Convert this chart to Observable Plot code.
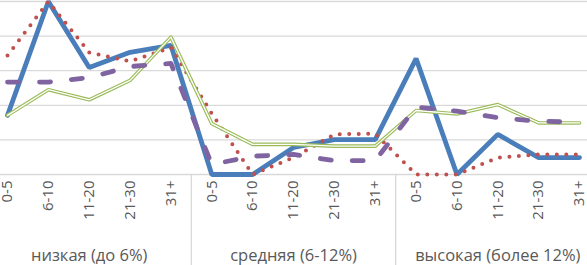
<!DOCTYPE html>
<html>
<head>
<meta charset="utf-8">
<script src="https://cdn.jsdelivr.net/npm/d3@7"></script>
<script src="https://cdn.jsdelivr.net/npm/@observablehq/plot@0.6"></script>
<style>
  html, body { margin: 0; padding: 0; background: #fff; }
  svg { display: block; }
</style>
</head>
<body>
<div id="chart"></div>
<script>
const ticks = ["0-5", "6-10", "11-20", "21-30", "31+"];
const groups = ["низкая (до 6%)", "средняя (6-12%)", "высокая (более 12%)"];
const blue   = [17.1, 50, 30.9, 35.3, 37.3, 0, 0, 7.8, 10.1, 10.1, 33.5, 0, 11.6, 4.9, 4.9];
const red    = [34.4, 50, 35.3, 32.7, 36.7, 17.6, 0, 4.9, 11.6, 11.8, 0, 0, 4.9, 5.8, 5.8];
const purple = [26.7, 26.7, 28.0, 31.2, 32.1, 2.9, 5.3, 5.8, 4.0, 4.0, 19.5, 18.3, 16.4, 15.4, 15.1];
const green  = [17.1, 24.5, 21.6, 27.2, 39.7, 14.7, 8.7, 8.7, 8.2, 8.2, 18.5, 17.5, 20.2, 14.9, 14.9];
const gridValues = [0, 10, 20, 30, 40, 50];

const cats = groups.flatMap((g, gi) => ticks.map((t, ti) => ({i: gi * ticks.length + ti, tick: t, group: g})));
const series = (vals) => vals.map((v, i) => ({i, v}));
const groupPos = groups.map((g, gi) => ({g, x: gi * ticks.length + (ticks.length - 1) / 2}));
const seps = groups.slice(1).map((g, gi) => (gi + 1) * ticks.length - 0.5);

const font = "'Open Sans', 'Noto Sans', sans-serif";

const chart = Plot.plot({
  width: 587,
  height: 265,
  marginTop: 1,
  marginBottom: 91,
  marginLeft: 0,
  marginRight: 0,
  style: {fontFamily: font, background: "#fff", overflow: "visible"},
  x: {type: "linear", domain: [-0.1713, 14.195], axis: null},
  y: {domain: [0, 50], axis: null},
  marks: [
    Plot.ruleY(gridValues, {stroke: "#d9d9d9", strokeWidth: 1.3}),
    Plot.ruleX(seps, {y1: 0, y2: -27, stroke: "#d9d9d9", strokeWidth: 1.3}),
    Plot.line(series(blue), {x: "i", y: "v", stroke: "#4a7ebb", strokeWidth: 4.8, strokeLinejoin: "miter"}),
    Plot.line(series(red), {x: "i", y: "v", stroke: "#c0504d", strokeWidth: 4, strokeDasharray: "0 9.5", strokeLinecap: "round"}),
    Plot.line(series(green), {x: "i", y: "v", stroke: "#9bbb59", strokeWidth: 3.6}),
    Plot.line(series(green), {x: "i", y: "v", stroke: "#ffffff", strokeWidth: 1.3}),
    Plot.line(series(purple), {x: "i", y: "v", stroke: "#8064a2", strokeWidth: 4.8, strokeDasharray: "11 21", strokeLinecap: "round"}),
    Plot.text(cats, {x: "i", y: 0, text: "tick", rotate: -90, textAnchor: "end", lineAnchor: "middle", dy: 6, fontSize: 15, fill: "#595959"}),
    Plot.text(groupPos, {x: "x", y: 0, text: "g", dy: 81, fontSize: 16.5, fill: "#595959", lineAnchor: "middle"})
  ]
});
document.getElementById("chart").appendChild(chart);
</script>
</body>
</html>
